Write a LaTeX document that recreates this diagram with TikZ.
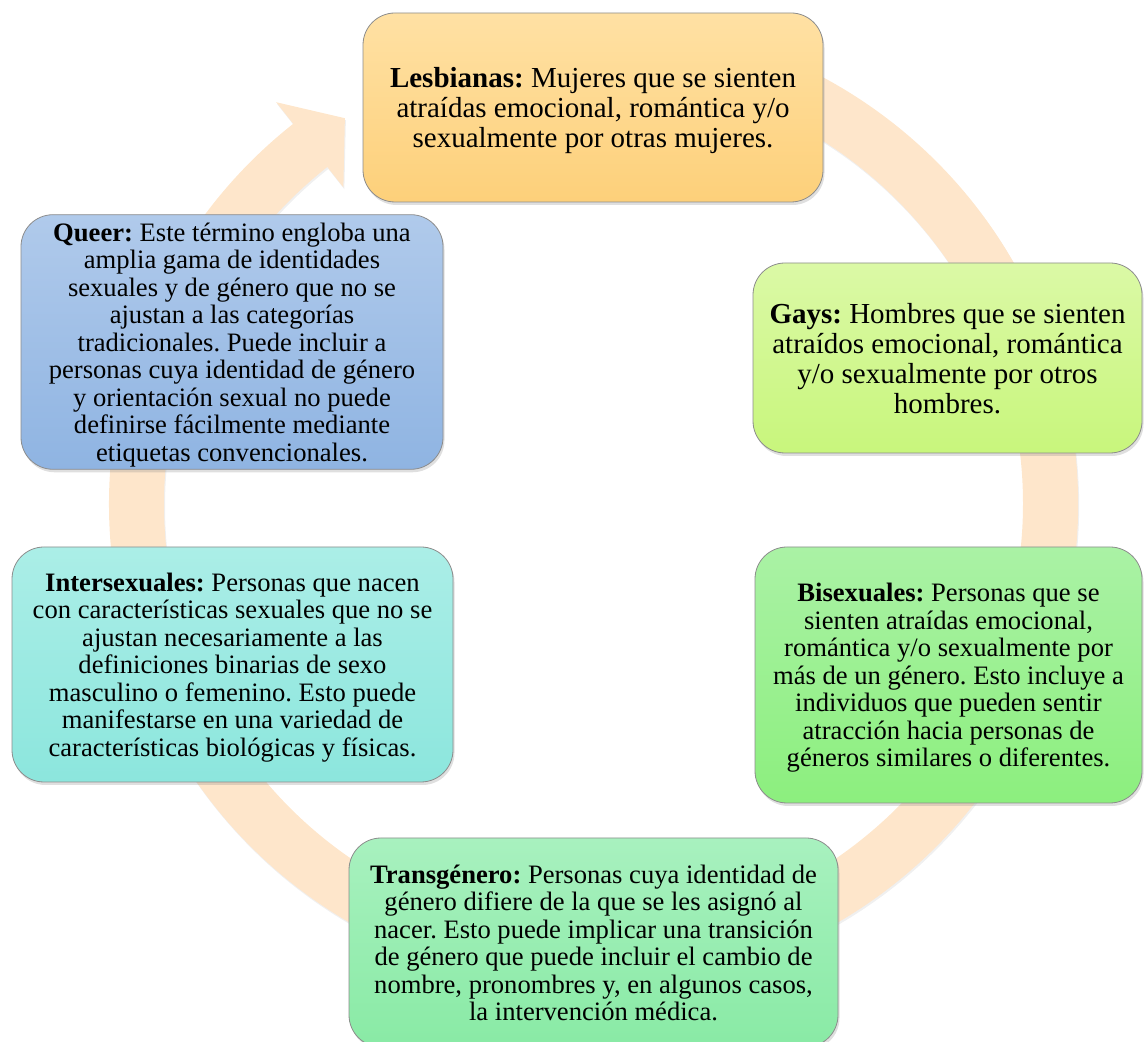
\documentclass[tikz,border=0pt]{standalone}
\usepackage{fontspec}
\setmainfont{Liberation Serif}
\usetikzlibrary{shadows}
\frenchspacing
\definecolor{ringc}{HTML}{FEE6CB}
\definecolor{lesT}{HTML}{FFE1A4}
\definecolor{lesB}{HTML}{FDD07A}
\definecolor{gayT}{HTML}{DBF9A6}
\definecolor{gayB}{HTML}{C8F67C}
\definecolor{bisT}{HTML}{AAF2A5}
\definecolor{bisB}{HTML}{8CEF7E}
\definecolor{traT}{HTML}{A8F1BF}
\definecolor{traB}{HTML}{89EAA5}
\definecolor{intT}{HTML}{ABEEE7}
\definecolor{intB}{HTML}{8CE6DD}
\definecolor{queT}{HTML}{B0CAEB}
\definecolor{queB}{HTML}{8FB4E2}
\newcommand{\topfix}{\rule{0pt}{1em}}
\newcommand{\botfix}{\rule[-0.3em]{0pt}{0pt}}
\begin{document}
\begin{tikzpicture}[x=1pt,y=1pt,
  card/.style={rectangle, rounded corners=32pt, draw=black!45, line width=0.8pt,
    inner sep=0pt, align=center, text=black,
    drop shadow={shadow xshift=1.5pt, shadow yshift=-3pt, opacity=0.25}},
  bigtxt/.style={font=\fontsize{29}{30}\selectfont},
  smalltxt/.style={font=\fontsize{26.6}{27.5}\selectfont},
  ringstyle/.style={fill=ringc, draw=none,
    drop shadow={shadow xshift=1pt, shadow yshift=-2pt, opacity=0.12}}
]
\useasboundingbox (0,0) rectangle (1145,1041);

% cycle ring with arrowhead
\begin{scope}[shift={(593.5,537)}]
  \path[ringstyle]
    (110:484.5pt) arc[start angle=110, end angle=-231.7, radius=484.5pt]
    -- (128.3:512pt) -- (122.8:459pt) -- (128.3:403.6pt) -- (128.3:429.5pt)
    arc[start angle=-231.7, end angle=110, radius=429.5pt] -- cycle;
\end{scope}

\node[card, bigtxt, top color=lesT, bottom color=lesB,
  minimum width=460pt, minimum height=189pt] (les) at (593,933.5)
  {\topfix\textbf{Lesbianas:} Mujeres que se sienten\\ atraídas emocional, romántica y/o\\ sexualmente por otras mujeres.\botfix};

\node[card, bigtxt, top color=gayT, bottom color=gayB,
  minimum width=389pt, minimum height=190pt] (gay) at (947.5,683)
  {\topfix\textbf{Gays:} Hombres que se sienten\\ atraídos emocional, romántica\\ y/o sexualmente por otros\\ hombres.\botfix};

\node[card, smalltxt, top color=bisT, bottom color=bisB,
  minimum width=387pt, minimum height=256pt] (bis) at (948.5,366)
  {\topfix\textbf{Bisexuales:} Personas que se\\ sienten atraídas emocional,\\ romántica y/o sexualmente por\\ más de un género. Esto incluye a\\ individuos que pueden sentir\\ atracción hacia personas de\\ géneros similares o diferentes.\botfix};

\node[card, smalltxt, top color=traT, bottom color=traB,
  minimum width=489pt, minimum height=209pt] (tra) at (593.5,98.5)
  {\topfix\textbf{Transgénero:} Personas cuya identidad de\\ género difiere de la que se les asignó al\\ nacer. Esto puede implicar una transición\\ de género que puede incluir el cambio de\\ nombre, pronombres y, en algunos casos,\\ la intervención médica.\botfix};

\node[card, smalltxt, top color=intT, bottom color=intB,
  minimum width=441pt, minimum height=235pt] (int) at (232.5,376.5)
  {\topfix\textbf{Intersexuales:} Personas que nacen\\ con características sexuales que no se\\ ajustan necesariamente a las\\ definiciones binarias de sexo\\ masculino o femenino. Esto puede\\ manifestarse en una variedad de\\ características biológicas y físicas.\botfix};

\node[card, smalltxt, top color=queT, bottom color=queB,
  minimum width=422pt, minimum height=250pt] (que) at (232,699)
  {\topfix\textbf{Queer:} Este término engloba una\\ amplia gama de identidades\\ sexuales y de género que no se\\ ajustan a las categorías\\ tradicionales. Puede incluir a\\ personas cuya identidad de género\\ y orientación sexual no puede\\ definirse fácilmente mediante\\ etiquetas convencionales.\botfix};
\end{tikzpicture}
\end{document}
